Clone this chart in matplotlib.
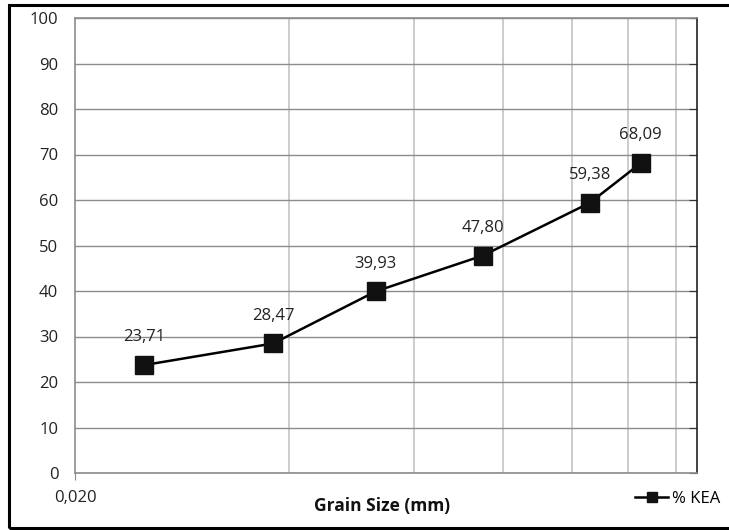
import matplotlib
matplotlib.use('Agg')
import matplotlib.pyplot as plt
from matplotlib.ticker import FixedLocator, NullFormatter
from matplotlib.patches import Rectangle

plt.rcParams['font.family'] = ['Open Sans', 'DejaVu Sans']

# grain size (mm) and cumulative % KEA
grain_size = [0.025, 0.038, 0.053, 0.075, 0.106, 0.125]
kea = [23.71, 28.47, 39.93, 47.80, 59.38, 68.09]
labels = ['23,71', '28,47', '39,93', '47,80', '59,38', '68,09']
minor_grid = [0.04, 0.06, 0.08, 0.10, 0.12, 0.14]
y_ticks = list(range(0, 101, 10))

fig = plt.figure(figsize=(7.29, 5.30), dpi=100)
ax = fig.add_axes([75 / 729, 57 / 530, 622 / 729, 455 / 530])

ax.set_xscale('log')
ax.set_xlim(0.02, 0.15)
ax.set_ylim(0, 100)

ax.plot(grain_size, kea, color='black', lw=1.8, marker='s', ms=13,
        mfc='#111111', mec='#111111', label='% KEA', zorder=3)

for x, y, t in zip(grain_size, kea, labels):
    ax.annotate(t, (x, y), xytext=(0, 20), textcoords='offset points',
                ha='center', va='center', fontsize=12, color='#222222')

# axes / grid styling (Excel look)
ax.xaxis.set_major_locator(FixedLocator([0.02]))
ax.set_xticklabels(['0,020'])
ax.xaxis.set_minor_locator(FixedLocator(minor_grid))
ax.xaxis.set_minor_formatter(NullFormatter())
ax.set_yticks(y_ticks)

ax.grid(axis='y', which='major', color='#8c8c8c', lw=1)
ax.grid(axis='x', which='minor', color='#c4c4c4', lw=1.2)
ax.set_axisbelow(True)

ax.tick_params(axis='x', which='major', length=5, color='#8c8c8c',
               pad=7, labelsize=12, labelcolor='#222222')
ax.tick_params(axis='x', which='minor', length=0)
ax.tick_params(axis='y', which='major', left=False, right=True,
               direction='in', length=6, color='#333333',
               pad=12, labelsize=12, labelcolor='#222222')

for side in ['left', 'bottom', 'top']:
    ax.spines[side].set_color('#8c8c8c')
    ax.spines[side].set_linewidth(1.2)
ax.spines['right'].set_color('#222222')
ax.spines['right'].set_linewidth(1.2)

ax.set_xlabel('Grain Size (mm)', fontsize=12.5, fontweight='bold', color='#111111')
ax.xaxis.set_label_coords(0.494, -0.072)
ax.xaxis.label.set_va('center')

fig.legend(loc='center right', bbox_to_anchor=(1.008, 0.058), frameon=False,
           fontsize=12, handlelength=2.0, handletextpad=0.2, markerscale=0.6)

# outer chart border
fig.patches.append(Rectangle((9 / 729, 2 / 530), 0.99, 523 / 530,
                             transform=fig.transFigure, fill=False,
                             edgecolor='black', lw=2.2))

fig.savefig('out.png', dpi=100)
